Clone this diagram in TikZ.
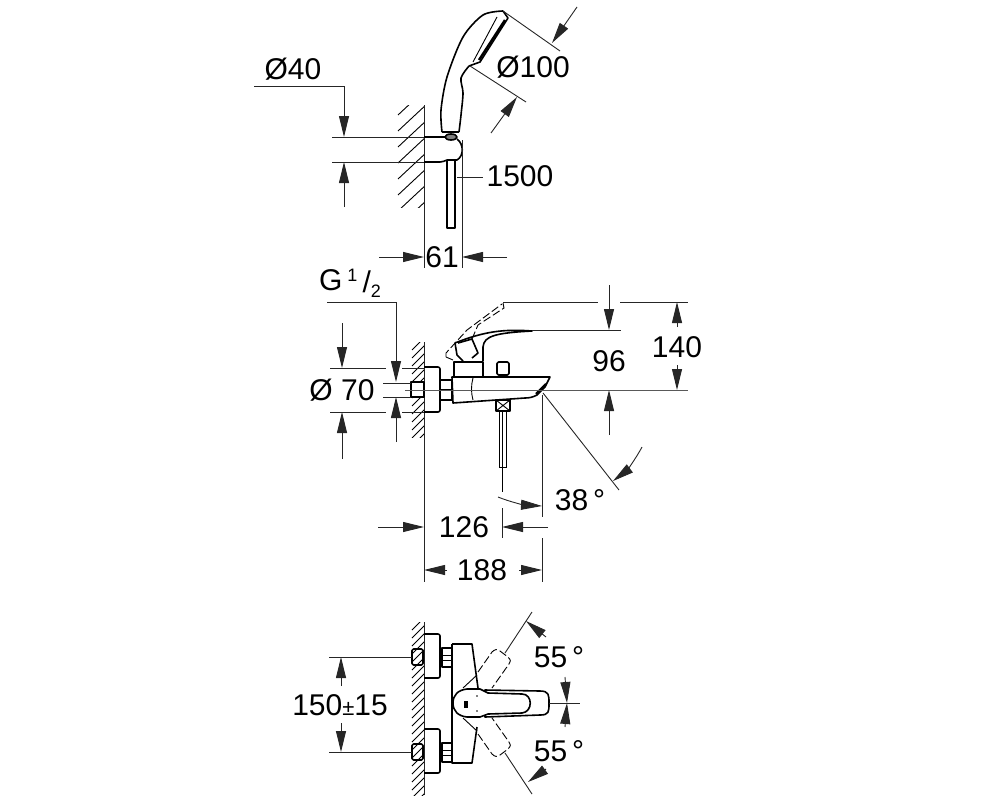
\documentclass[tikz,border=0pt]{standalone}
\usepackage{fontspec}
\setmainfont{Liberation Sans}
\usetikzlibrary{arrows.meta}
\tikzset{
  dimline/.style={line width=0.9pt, black!85},
  dimarrow/.style={dimline, -{Triangle[length=21pt,width=10pt]}},
  partline/.style={line width=1.6pt, line join=round},
  hatchline/.style={line width=0.9pt},
  ghostline/.style={line width=0.9pt, dash pattern=on 8pt off 3pt},
  every node/.style={font=\fontsize{30}{30}\selectfont, inner sep=0pt}
}
\begin{document}
\begin{tikzpicture}[x=1pt, y=-1pt]
  \useasboundingbox (0,0) rectangle (1000,800);

  % shower head and holder
  \begin{scope}
    \clip (396,105) rectangle (424,207);
    \foreach \ypos in {115,131,147,163,179,195,211,227}
      \draw[hatchline] (398,\ypos) -- ++(30,-28);
  \end{scope}
  \draw[dimline] (424,105) -- (424,268);
  \draw[partline] plot[smooth] coordinates {(442,132) (441,110) (447,77) (463,37) (483,15) (503,11)};
  \draw[partline] (503,11) -- (508,18) -- (480,62) -- (469,66);
  \draw[line width=2.4pt] (505,20) -- (479,60);
  \draw[hatchline] (497,17) -- (473,62);
  \draw[partline] plot[smooth] coordinates {(469,66) (461,78) (463,93) (461,115) (459,132)};
  \draw[partline] (442,132) -- (459,132);
  \draw[partline, fill=black!50] (451,137) ellipse (6 and 3);
  \draw[partline] (424,137) -- (445,137);
  \draw[partline] (457,139) .. controls (464,144) and (464,156) .. (457,160) -- (447,160) .. controls (444,161) and (443,162) .. (440,162) -- (424,162);
  \draw[partline] (447,160) -- (447,228) -- (455,228) -- (455,160);
  \draw[dimline] (332,137) -- (424,137);
  \draw[dimline] (332,162) -- (424,162);
  \draw[dimline] (254,86) -- (344,86);
  \draw[dimarrow] (344,86) -- (344,137);
  \draw[dimarrow] (344,207) -- (344,162);
  \node (d40) at (293,69) {Ø40};
  \draw[dimline] (503,11) -- (560,51);
  \draw[dimline] (470,66) -- (526,102);
  \draw[dimarrow] (577,7) -- (552,43);
  \draw[dimarrow] (491,133) -- (517,97);
  \node (d100) at (533,67) {Ø100};
  \draw[dimline] (462,140) -- (462,268);
  \draw[dimline] (457,177) -- (483,177);
  \node (len1500) at (520,176) {1500};
  \draw[dimarrow] (379,257) -- (424,257);
  \draw[dimarrow] (507,257) -- (462,257);
  \node (w61) at (442,257) {61};

  % mixer side view
  \begin{scope}
    \clip (410,342) rectangle (424,437);
    \foreach \ypos in {350,358,366,374,382,390,398,406,414,422,430,438,446}
      \draw[hatchline] (412,\ypos) -- ++(14,-14);
  \end{scope}
  \draw[dimline] (424,342) -- (424,582);
  \draw[partline, rounded corners=2pt] (424,367) -- (440,367) -- (440,412) -- (424,412);
  \draw[partline, fill=white] (411,382) rectangle (424,397);
  \draw[partline] (440,380) rectangle (452,400);
  \draw[partline] (440,390) -- (452,390);
  \draw[partline] (452,377) -- (550,377) -- (545,387) -- (537,395) .. controls (533,397) and (530,398) .. (525,398) -- (453,403) -- cycle;
  \draw[hatchline] (473,378) .. controls (471,385) and (471,393) .. (473,400);
  \draw[line width=2.4pt] (536,394) -- (546,384);
  \draw[partline] (454,376) -- (454,362) -- (483,362) -- (483,376);
  \draw[partline] (483,361) -- (483,347) .. controls (484,336) and (495,333) .. (532,331) .. controls (505,329) and (485,331) .. (455,343) -- (457,355) -- (463,361);
  \draw[partline] (458,343) -- (472,339) -- (478,353) -- (472,358);
  \draw[ghostline] (446,357) -- (446,353) -- (467,330) -- (502,304);
  \draw[ghostline] (472,339) -- (478,325) -- (504,308) -- (503,303);
  \draw[ghostline] (446,357) -- (453,360);
  \draw[partline, rounded corners=1.5pt] (497,375) rectangle (509,362);
  \draw[partline] (496,400) rectangle (510,411);
  \draw[hatchline] (496,400) -- (510,411) (510,400) -- (496,411);
  \draw[hatchline] (499,411) -- (499,467) -- (506,467) -- (506,411);
  \draw[hatchline] (502,411) -- (502,492);
  \draw[dimline] (502,508) -- (502,538);
  \draw[dimline] (330,368) -- (386,368);
  \draw[dimline] (402,368) -- (424,368);
  \draw[dimline] (330,412) -- (386,412);
  \draw[dimline] (402,412) -- (424,412);
  \draw[dimline] (383,383) -- (411,383);
  \draw[dimline] (383,397) -- (411,397);
  \draw[line width=1pt, black!65] (405,390) -- (688,390);
  \draw[dimline] (327,302) -- (396,302);
  \draw[dimarrow] (396,302) -- (396,382);
  \draw[dimarrow] (396,442) -- (396,397);
  \draw[dimarrow] (342,323) -- (342,368);
  \draw[dimarrow] (342,459) -- (342,412);
  \node (gsize) at (350,283) {G\,\raisebox{9pt}{\fontsize{18}{18}\selectfont 1}\,\raisebox{-2pt}{/}\raisebox{-7pt}{\fontsize{18}{18}\selectfont 2}};
  \node (d70) at (342,390) {Ø 70};
  \draw[dimline] (503,302) -- (598,302);
  \draw[dimline] (620,302) -- (688,302);
  \draw[dimline] (532,330) -- (621,330);
  \draw[dimarrow] (609,285) -- (609,330);
  \draw[dimarrow] (609,435) -- (609,390);
  \node (h96) at (609,361) {96};
  \draw[dimarrow] (677,327) -- (677,302);
  \draw[dimarrow] (677,365) -- (677,390);
  \node (h140) at (677,347) {140};
  \draw[dimline] (543,393) -- (619,490);
  \draw[dimarrow] (642,447) .. controls (634,462) and (625,472) .. (613,481);
  \draw[dimarrow] (498,497) .. controls (510,502) and (525,505) .. (542,506);
  \node (a38) at (580,500) {38\,°};
  \draw[dimline] (542,395) -- (542,517);
  \draw[dimline] (542,538) -- (542,582);
  \draw[dimarrow] (378,527) -- (424,527);
  \draw[dimarrow] (548,527) -- (502,527);
  \node (w126) at (464,527) {126};
  \draw[dimarrow] (447,570) -- (424,570);
  \draw[dimarrow] (519,570) -- (542,570);
  \node (w188) at (482,570) {188};

  % mixer top view
  \begin{scope}
    \clip (410,622) rectangle (424,795);
    \foreach \ypos in {630,638,...,806}
      \draw[hatchline] (412,\ypos) -- ++(14,-14);
  \end{scope}
  \draw[dimline] (424,622) -- (424,795);
  \foreach \ypos in {0,95} {
    \draw[partline, rounded corners=2pt, yshift=-\ypos] (424,634) -- (440,634) -- (440,678) -- (424,678);
    \draw[partline, rounded corners=1.5pt, yshift=-\ypos] (412,649) rectangle (423,665);
    \draw[partline, yshift=-\ypos] (442,648) rectangle (452,667);
    \draw[hatchline, yshift=-\ypos] (442,655) -- (452,655) (442,660) -- (452,660);
  }
  \draw[partline] (452,644) -- (452,763) -- (472,763) -- (477,727);
  \draw[partline] (452,644) -- (472,644) -- (478,688);
  \draw[dimline] (532,612) -- (505,653);
  \draw[hatchline] (477,675) -- (463,688);
  \draw[dimline] (532,794) -- (505,753);
  \draw[hatchline] (477,731) -- (463,718);
  \draw[ghostline] (478,672) -- (492,652) .. controls (495,649) and (497,649) .. (500,651) -- (508,657) .. controls (511,660) and (511,662) .. (509,664) -- (492,688);
  \draw[ghostline] (478,734) -- (492,754) .. controls (495,757) and (497,757) .. (500,755) -- (508,749) .. controls (511,746) and (511,744) .. (509,742) -- (492,718);
  % spout
  \draw[partline, fill=white] (485,690) -- (540,691) .. controls (549,691) and (549,695) .. (549,703) .. controls (549,712) and (549,715) .. (540,715) -- (485,717) -- cycle;
  % lever
  \draw[partline, fill=white] (467,689) .. controls (458,690) and (453,695) .. (453,703) .. controls (453,711) and (458,716) .. (467,717) -- (480,717) -- (488,714) -- (522,713) .. controls (533,712) and (533,694) .. (522,694) -- (488,693) -- (480,689) -- cycle;
  \fill (464,701) rectangle (468,708);
  \fill (477,696) circle (0.9) (477,711) circle (0.9);
  \draw[dimline] (549,703) -- (580,703);
  \draw[dimline] (329,657) -- (412,657);
  \draw[dimline] (329,752) -- (412,752);
  \draw[dimarrow] (341,686) -- (341,657);
  \draw[dimarrow] (341,723) -- (341,752);
  \node (s150) at (340,705) {150{\fontsize{22}{22}\selectfont ±}15};
  \draw[dimarrow] (546,637) -- (526,621);
  \draw[dimarrow] (546,769) -- (528,782);
  \draw[dimarrow] (565,677) -- (567,703);
  \draw[dimarrow] (565,727) -- (567,703);
  \node (a55up) at (559,657) {55\,°};
  \node (a55down) at (559,751) {55\,°};
\end{tikzpicture}
\end{document}
